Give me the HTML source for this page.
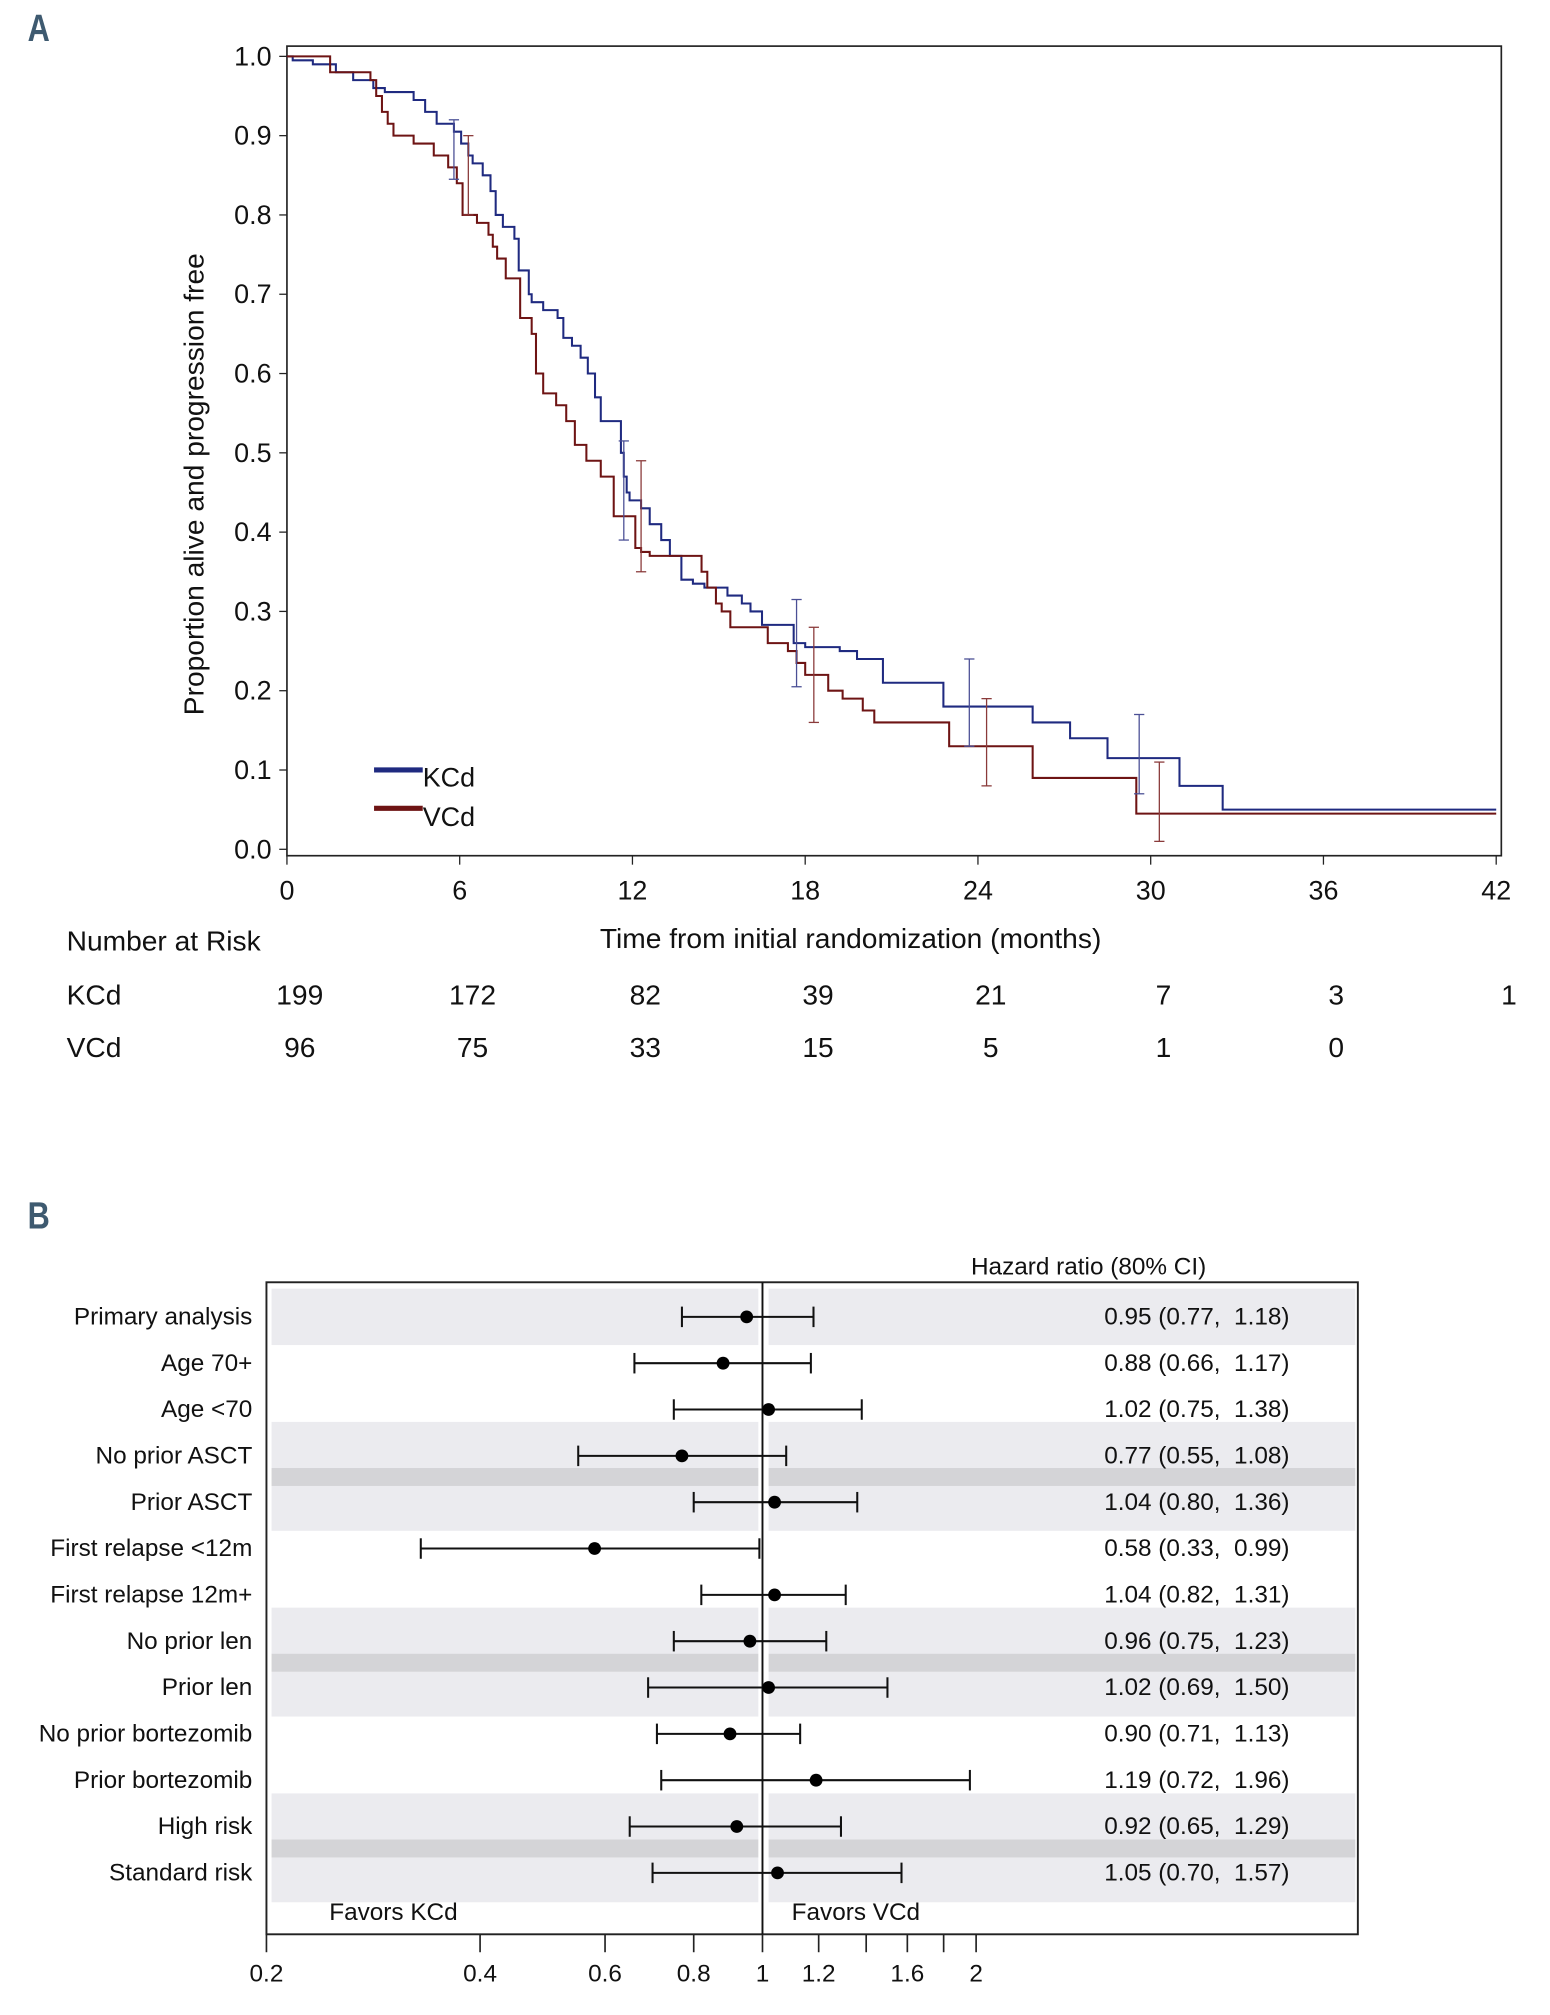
<!DOCTYPE html>
<html><head><meta charset="utf-8"><style>
html,body{margin:0;padding:0;background:#fff}
svg{display:block}
text{font-family:"Liberation Sans",sans-serif}
.pre{white-space:pre}
</style></head><body>
<svg id="fig" width="1550" height="2015" viewBox="0 0 1210 1573" xmlns="http://www.w3.org/2000/svg">
<text x="22" y="32" font-size="30" font-weight="bold" fill="#3e5a70" transform="scale(0.8,1) translate(5,0)">A</text>
<text x="22" y="959" font-size="30" font-weight="bold" fill="#3e5a70" transform="scale(0.8,1) translate(5,0)">B</text>
<g id="km"></g>
<g id="forest"></g>
</svg>
<script>
const NS="http://www.w3.org/2000/svg";
function mk(tag,attrs,parent,txt){const e=document.createElementNS(NS,tag);for(const k in attrs)e.setAttribute(k,attrs[k]);if(txt!==undefined)e.textContent=txt;parent.appendChild(e);return e;}

// ---------- Panel A data ----------
const xTicks=[0,6,12,18,24,30,36,42];
const yTicks=[0,0.1,0.2,0.3,0.4,0.5,0.6,0.7,0.8,0.9,1.0];
const kcdTimes=[0,0.2,0.9,1.7,2.3,3.0,3.4,4.4,4.8,5.2,5.8,6.05,6.3,6.45,6.8,7.07,7.25,7.5,7.9,8.05,8.4,8.5,8.9,9.4,9.6,9.9,10.2,10.45,10.7,10.9,11.6,11.7,11.8,11.9,12.3,12.6,13.0,13.3,13.7,14.1,14.5,15.3,15.8,16.1,16.5,17.6,18.0,19.2,19.8,20.7,22.8,25.9,27.2,28.5,31.0,32.5];
const kcdSurv=[1.0,0.995,0.99,0.98,0.97,0.96,0.955,0.945,0.93,0.915,0.905,0.89,0.875,0.865,0.85,0.83,0.80,0.785,0.77,0.73,0.70,0.69,0.68,0.67,0.645,0.635,0.62,0.60,0.57,0.54,0.50,0.47,0.45,0.44,0.43,0.41,0.39,0.37,0.34,0.335,0.33,0.32,0.31,0.30,0.283,0.26,0.255,0.25,0.24,0.21,0.18,0.16,0.14,0.115,0.08,0.05];
const vcdTimes=[0,1.5,2.9,3.1,3.3,3.5,3.7,4.4,5.1,5.6,5.9,6.1,6.6,7.0,7.15,7.3,7.6,8.1,8.5,8.65,8.9,9.35,9.7,10.0,10.4,10.9,11.35,12.1,12.3,12.6,14.4,14.6,14.9,15.1,15.4,16.7,17.4,17.7,18.0,18.8,19.3,20.0,20.4,23.0,25.9,29.5];
const vcdSurv=[1.0,0.98,0.97,0.95,0.93,0.915,0.90,0.89,0.875,0.86,0.84,0.80,0.79,0.775,0.76,0.745,0.72,0.67,0.65,0.60,0.575,0.56,0.54,0.51,0.49,0.47,0.42,0.38,0.375,0.37,0.35,0.33,0.31,0.30,0.28,0.26,0.25,0.235,0.22,0.20,0.19,0.175,0.16,0.13,0.09,0.045];
const kcdCiT=[5.8,11.7,17.7,23.7,29.6];
const kcdCiLo=[0.845,0.39,0.205,0.13,0.07];
const kcdCiHi=[0.92,0.515,0.315,0.24,0.17];
const vcdCiT=[6.3,12.3,18.3,24.3,30.3];
const vcdCiLo=[0.80,0.35,0.16,0.08,0.01];
const vcdCiHi=[0.90,0.49,0.28,0.19,0.11];
const riskKcd=[199,172,82,39,21,7,3,1];
const riskVcd=[96,75,33,15,5,1,0];

const km=document.getElementById('km');
const X=t=>224+t*(1168-224)/42;
const Y=v=>663-v*(663-44);
mk('rect',{x:224,y:36,width:948,height:632,fill:'none',stroke:'#222','stroke-width':1.3},km);
yTicks.forEach(v=>{
  const tk=mk('line',{x1:218,x2:224,y1:Y(v),y2:Y(v),stroke:'#222'},km);
  
  const t=mk('text',{x:212,y:Y(v)+7,'font-size':21,'text-anchor':'end',fill:'#111'},km,v.toFixed(1));
  
});
xTicks.forEach(v=>{
  const tk=mk('line',{x1:X(v),x2:X(v),y1:668,y2:675,stroke:'#222'},km);
  
  const t=mk('text',{x:X(v),y:702,'font-size':21,'text-anchor':'middle',fill:'#111'},km,String(v));
  
});
let tt=mk('text',{x:664,y:740,'font-size':22,'text-anchor':'middle',fill:'#111'},km,'Time from initial randomization (months)');

tt=mk('text',{x:0,y:0,'font-size':22,'text-anchor':'middle',fill:'#111',transform:'translate(159,378) rotate(-90)'},km,'Proportion alive and progression free');


function stepPath(ts,ss){let d=`M${X(ts[0])},${Y(ss[0])}`;for(let i=1;i<ts.length;i++){d+=`H${X(ts[i])}V${Y(ss[i])}`;}d+=`H${X(42)}`;return d;}
const pk=mk('path',{d:stepPath(kcdTimes,kcdSurv),fill:'none',stroke:'#1f2a80','stroke-width':1.6},km);

const pv=mk('path',{d:stepPath(vcdTimes,vcdSurv),fill:'none',stroke:'#6e1414','stroke-width':1.6},km);

function ci(ts,lo,hi,col,nm){ts.forEach((t,i)=>{const g=mk('g',{stroke:col,'stroke-width':1},km);
 
 mk('line',{x1:X(t),x2:X(t),y1:Y(lo[i]),y2:Y(hi[i])},g);
 mk('line',{x1:X(t)-4,x2:X(t)+4,y1:Y(lo[i]),y2:Y(lo[i])},g);
 mk('line',{x1:X(t)-4,x2:X(t)+4,y1:Y(hi[i]),y2:Y(hi[i])},g);});}
ci(kcdCiT,kcdCiLo,kcdCiHi,'#4a4f95','kcd-ci-bar');
ci(vcdCiT,vcdCiLo,vcdCiHi,'#8a3a3a','vcd-ci-bar');
let lg=mk('g',{},km);
let le=mk('line',{x1:292,x2:330,y1:601,y2:601,stroke:'#1f2a80','stroke-width':4},lg);

le=mk('text',{x:330,y:614,'font-size':21,fill:'#111'},lg,'KCd');
le=mk('line',{x1:292,x2:330,y1:631,y2:631,stroke:'#6e1414','stroke-width':4},lg);

le=mk('text',{x:330,y:645,'font-size':21,fill:'#111'},lg,'VCd');
let r=mk('text',{x:52,y:742,'font-size':22,fill:'#111'},km,'Number at Risk');
r=mk('text',{x:52,y:784,'font-size':22,fill:'#111'},km,'KCd');
r=mk('text',{x:52,y:825,'font-size':22,fill:'#111'},km,'VCd');
riskKcd.forEach((n,i)=>{const t=mk('text',{x:X(xTicks[i])+10,y:784,'font-size':22,'text-anchor':'middle',fill:'#111'},km,String(n));
 });
riskVcd.forEach((n,i)=>{const t=mk('text',{x:X(xTicks[i])+10,y:825,'font-size':22,'text-anchor':'middle',fill:'#111'},km,String(n));
 });

// ---------- Panel B data ----------
const subgroups=['Primary analysis','Age 70+','Age <70','No prior ASCT','Prior ASCT','First relapse <12m','First relapse 12m+','No prior len','Prior len','No prior bortezomib','Prior bortezomib','High risk','Standard risk'];
const hr=[0.95,0.88,1.02,0.77,1.04,0.58,1.04,0.96,1.02,0.90,1.19,0.92,1.05];
const hrLo=[0.77,0.66,0.75,0.55,0.80,0.33,0.82,0.75,0.69,0.71,0.72,0.65,0.70];
const hrHi=[1.18,1.17,1.38,1.08,1.36,0.99,1.31,1.23,1.50,1.13,1.96,1.29,1.57];
const hrTicks=[0.2,0.4,0.6,0.8,1,1.2,1.6,2];
const hrMinor=[1.4,1.8];

const fp=document.getElementById('forest');
const HX=v=>208+554*Math.log10(v/0.2);
const RY=i=>1028+i*36.17;
[[1006,1050],[1110,1195],[1255,1340],[1400,1485]].forEach(b=>{const e=mk('rect',{x:212,y:b[0],width:846,height:b[1]-b[0],fill:'#ebebef'},fp);});
[[1146,1160],[1291,1305],[1436,1450]].forEach(b=>{const e=mk('rect',{x:212,y:b[0],width:846,height:b[1]-b[0],fill:'#d4d4d7'},fp);});
mk('rect',{x:592,y:1003,width:8,height:505,fill:'#fff'},fp);
mk('rect',{x:208,y:1001,width:852,height:509,fill:'none',stroke:'#222','stroke-width':1.5},fp);
let rl=mk('line',{x1:HX(1),x2:HX(1),y1:1001,y2:1510,stroke:'#111','stroke-width':1.5},fp);

let h=mk('text',{x:758,y:995,'font-size':19,fill:'#111'},fp,'Hazard ratio (80% CI)');
h=mk('text',{x:257,y:1499,'font-size':19,fill:'#111'},fp,'Favors KCd');
h=mk('text',{x:618,y:1499,'font-size':19,fill:'#111'},fp,'Favors VCd');
subgroups.forEach((s,i)=>{
  const y=RY(i);
  const t=mk('text',{x:197,y:y+6,'font-size':19,'text-anchor':'end',fill:'#111'},fp,s);
  
  const g=mk('g',{stroke:'#111','stroke-width':1.6},fp);
  
  mk('line',{x1:HX(hrLo[i]),x2:HX(hrHi[i]),y1:y,y2:y},g);
  mk('line',{x1:HX(hrLo[i]),x2:HX(hrLo[i]),y1:y-8,y2:y+8},g);
  mk('line',{x1:HX(hrHi[i]),x2:HX(hrHi[i]),y1:y-8,y2:y+8},g);
  const c=mk('circle',{cx:HX(hr[i]),cy:y,r:5,fill:'#000'},fp);
  
  const v=mk('text',{x:862,y:y+6,'font-size':19,fill:'#111','class':'pre'},fp,`${hr[i].toFixed(2)} (${hrLo[i].toFixed(2)},  ${hrHi[i].toFixed(2)})`);
  
});
hrTicks.forEach(v=>{
  const tk=mk('line',{x1:HX(v),x2:HX(v),y1:1510,y2:1524,stroke:'#222','stroke-width':1.3},fp);
  
  const t=mk('text',{x:HX(v),y:1547,'font-size':19,'text-anchor':'middle',fill:'#111'},fp,String(v));
  
});
hrMinor.forEach(v=>{const tk=mk('line',{x1:HX(v),x2:HX(v),y1:1510,y2:1524,stroke:'#222','stroke-width':1.3},fp);
  });
</script>
</body></html>
